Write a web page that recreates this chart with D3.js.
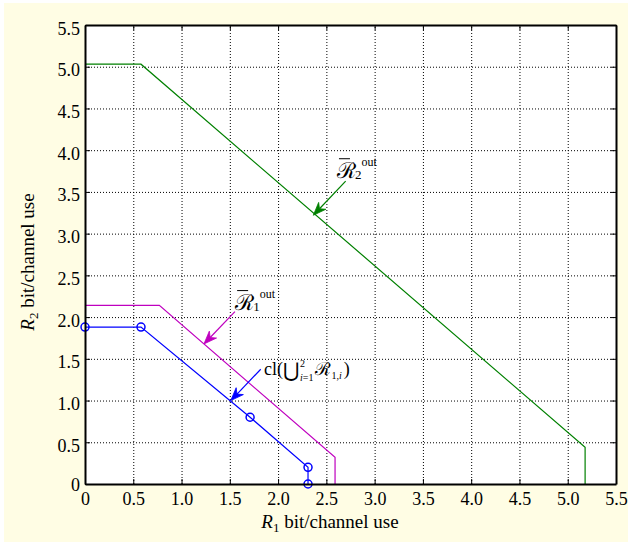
<!DOCTYPE html>
<html>
<head>
<meta charset="utf-8">
<script src="https://cdn.jsdelivr.net/npm/d3@7"></script>
<style>
body{margin:0;background:#fff;}
svg text{font-family:"Liberation Serif","Times New Roman",serif;}
</style>
</head>
<body>
<svg id="chart" width="631" height="545"></svg>
<script>
// data
var ticks = [0,0.5,1,1.5,2,2.5,3,3.5,4,4.5,5,5.5];
var greenR1 = [0,0.58,5.18,5.18];
var greenR2 = [5.03,5.03,0.44,0];
var magR1 = [0,0.77,2.59,2.59];
var magR2 = [2.14,2.14,0.32,0];
var blueR1 = [0,0.58,1.71,2.31,2.31];
var blueR2 = [1.88,1.88,0.80,0.20,0];

var svg = d3.select("#chart");
var L = 85, R = 616, T = 25, B = 484;
var x = d3.scaleLinear().domain([0,5.5]).range([L,R]);
var y = d3.scaleLinear().domain([0,5.5]).range([B,T]);
var fmt = function(d){ return d===0 ? "0" : d3.format(".1f")(d); };
var serif = "'Liberation Serif','Times New Roman',serif";

svg.append("rect").attr("x",4).attr("y",3).attr("width",624).attr("height",539).attr("fill","#fffde4");
svg.append("rect").attr("x",L).attr("y",T).attr("width",R-L).attr("height",B-T).attr("fill","#fff");

// grid
svg.append("g").attr("transform","translate(0,"+B+")")
  .call(d3.axisBottom(x).tickValues(ticks).tickSize(-(B-T)).tickFormat(""))
  .call(function(g){ g.select(".domain").remove(); g.selectAll("line").attr("stroke","#000").attr("stroke-dasharray","1,2"); });
svg.append("g").attr("transform","translate("+L+",0)")
  .call(d3.axisLeft(y).tickValues(ticks).tickSize(-(R-L)).tickFormat(""))
  .call(function(g){ g.select(".domain").remove(); g.selectAll("line").attr("stroke","#000").attr("stroke-dasharray","1,2"); });

// series
var line = d3.line().x(function(d){return x(d[0]);}).y(function(d){return y(d[1]);});
function series(xs, ys, col){
  var pts = xs.map(function(v,i){ return [v, ys[i]]; });
  svg.append("path").datum(pts).attr("d",line).attr("fill","none").attr("stroke",col).attr("stroke-width",1.2);
  return pts;
}
series(greenR1, greenR2, "#008000");
series(magR1, magR2, "#bf00bf");
var bpts = series(blueR1, blueR2, "#0000ff");
svg.selectAll("circle.m").data(bpts).enter().append("circle")
  .attr("cx",function(d){return x(d[0]);}).attr("cy",function(d){return y(d[1]);})
  .attr("r",4).attr("fill","none").attr("stroke","#0000ff").attr("stroke-width",1.5);

// axes box with inward ticks
function ax(a, tr, lab){
  var g = svg.append("g").attr("transform",tr).call(a.tickValues(ticks).tickSizeInner(-5).tickSizeOuter(0).tickPadding(8).tickFormat(lab ? fmt : ""));
  g.attr("font-family",serif).attr("font-size",18);
  g.select(".domain").attr("stroke-width",2);
  g.selectAll("text").attr("fill","#000");
  return g;
}
ax(d3.axisBottom(x), "translate(0,"+B+")", true);
ax(d3.axisLeft(y), "translate("+L+",0)", true).selectAll("text").attr("x",-5)
  .attr("dy",function(d){ return d===0 ? "0.36em" : "0.5em"; });
ax(d3.axisTop(x), "translate(0,"+T+")", false);
ax(d3.axisRight(y), "translate("+R+",0)", false);

// axis labels
var xl = svg.append("text").attr("x",330).attr("y",528).attr("text-anchor","middle").attr("font-size",19);
xl.append("tspan").attr("font-style","italic").text("R");
xl.append("tspan").attr("font-size",13).attr("dy",4).text("1");
xl.append("tspan").attr("dy",-4).text(" bit/channel use");
var yl = svg.append("text").attr("transform","translate(34,262) rotate(-90)").attr("text-anchor","middle").attr("font-size",19);
yl.append("tspan").attr("font-style","italic").text("R");
yl.append("tspan").attr("font-size",13).attr("dy",4).text("2");
yl.append("tspan").attr("dy",-4).text(" bit/channel use");

// annotation arrows (data coords: tail -> tip)
var arrows = [
  {t:[2.70,3.63], h:[2.365,3.22], c:"#008000"},
  {t:[1.553,2.065], h:[1.232,1.678], c:"#bf00bf"},
  {t:[1.82,1.375], h:[1.51,1.0], c:"#0000ff"}
];
arrows.forEach(function(a){
  var x0=x(a.t[0]), y0=y(a.t[1]), x1=x(a.h[0]), y1=y(a.h[1]);
  var ang=Math.atan2(y1-y0,x1-x0), len=13, hw=5, notch=9;
  var ux=Math.cos(ang), uy=Math.sin(ang), px=-uy, py=ux;
  svg.append("line").attr("x1",x0).attr("y1",y0).attr("x2",x1-ux*notch).attr("y2",y1-uy*notch).attr("stroke",a.c).attr("stroke-width",1.2);
  var p=[[x1,y1],[x1-ux*len+px*hw,y1-uy*len+py*hw],[x1-ux*notch,y1-uy*notch],[x1-ux*len-px*hw,y1-uy*len-py*hw]];
  svg.append("path").attr("d","M"+p.join("L")+"Z").attr("fill",a.c).attr("stroke",a.c).attr("stroke-width",0.8);
});

// region labels
function regionLabel(dx, dy, sub){
  var px0=x(dx), py0=y(dy);
  var t = svg.append("text").attr("x",px0).attr("y",py0).attr("font-size",20);
  t.append("tspan").style("font-family","'DejaVu Serif'").attr("font-size",22).text("\u211B");
  t.append("tspan").attr("font-size",13).attr("dy",1).attr("dx",-1).text(sub);
  t.append("tspan").attr("font-size",12).attr("dy",-13).text("out");
  svg.append("line").attr("x1",px0+2).attr("x2",px0+13).attr("y1",py0-19).attr("y2",py0-19).attr("stroke","#000").attr("stroke-width",1);
}
regionLabel(2.61, 3.67, "2");
regionLabel(1.555, 2.09, "1");

var cl = svg.append("text").attr("x",x(1.855)).attr("y",y(1.305)).attr("font-size",18);
cl.append("tspan").text("cl(");
cl.append("tspan").attr("font-size",20).attr("dy",2).text("\u22C3");
cl.append("tspan").attr("font-size",10).attr("dy",-10).attr("dx",1).text("2");
cl.append("tspan").attr("font-size",10).attr("dy",14).attr("dx",-5).style("font-style","italic").text("i");
cl.append("tspan").attr("font-size",10).text("=1");
cl.append("tspan").style("font-family","'DejaVu Serif'").attr("font-size",18).attr("dy",-6).attr("dx",2).text("\u211B");
cl.append("tspan").attr("font-size",10).attr("dy",4).text("1,");
cl.append("tspan").attr("font-size",10).style("font-style","italic").text("i");
cl.append("tspan").attr("dy",-4).attr("dx",2).text(")");
</script>
</body>
</html>
